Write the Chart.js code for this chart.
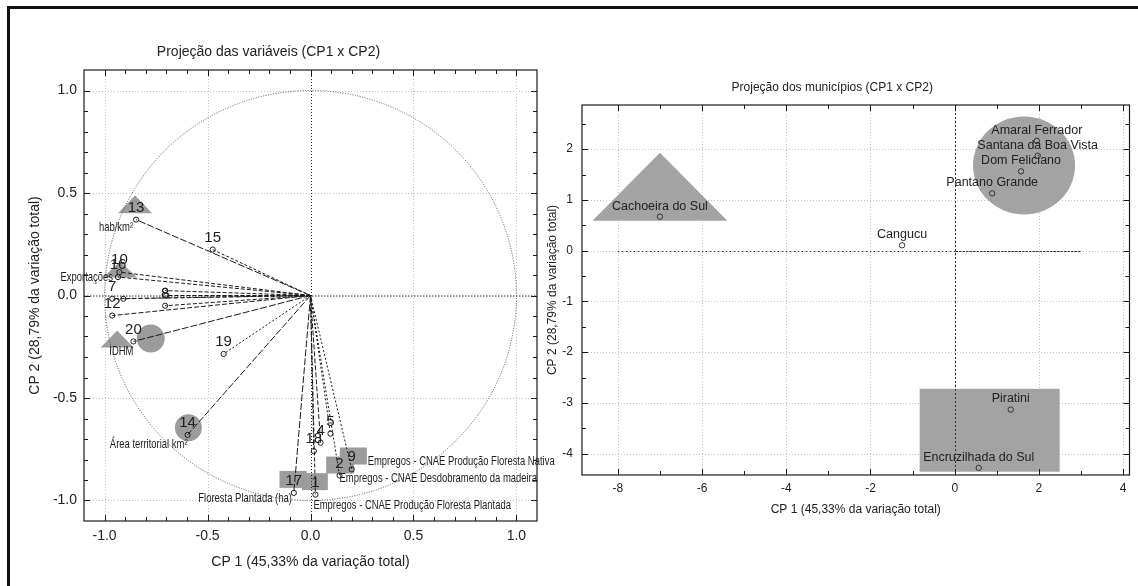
<!DOCTYPE html>
<html>
<head>
<meta charset="utf-8">
<script src="https://cdn.jsdelivr.net/npm/chart.js@4.4.0/dist/chart.umd.min.js"></script>
<style>
  html, body { margin: 0; padding: 0; background: #fff; }
  body { width: 1138px; height: 586px; position: relative; overflow: hidden; }
  #frame { position: absolute; left: 7px; top: 6px; width: 1300px; height: 700px;
           border-left: 3px solid #111; border-top: 3px solid #111; }
  canvas { position: absolute; top: 0; }
  #left { left: 0; }
  #right { left: 535px; }
</style>
</head>
<body>
<div id="frame"></div>
<canvas id="left" width="555" height="586"></canvas>
<canvas id="right" width="603" height="586"></canvas>
<script>
var FONT = "'Liberation Sans', Arial, sans-serif";

// ---- variáveis (CP1 x CP2) ----
var varLabels = ['1', '2', '', '4', '5', '', '7', '8', '9', '10', '', '12', '13', '14', '15', '16', '17', '18', '19', '20'];
var varCP1 = [0.024, 0.141, -0.706, 0.049, 0.097, -0.70, -0.963, -0.706, 0.20, -0.928, -0.909, -0.963, -0.847, -0.597, -0.475, -0.935, -0.081, 0.016, -0.422, -0.86];
var varCP2 = [-0.971, -0.878, 0.024, -0.718, -0.674, 0.0, -0.016, -0.05, -0.848, 0.114, -0.016, -0.098, 0.37, -0.68, 0.224, 0.09, -0.963, -0.759, -0.285, -0.224];
var varNames = ['Empregos - CNAE Produção Floresta Plantada', 'Empregos - CNAE Desdobramento da madeira', '', '', '', '', '', '', 'Empregos - CNAE Produção Floresta Nativa', '', '', '', 'hab/km²', 'Área territorial km²', '', 'Exportações', 'Floresta Plantada (ha)', '', '', 'IDHM'];

// grupos destacados (centros)
var varGroupKind = ['tri', 'tri', 'tri', 'circ', 'circ', 'rect', 'rect', 'rect', 'rect'];
var varGroupCP1 = [-0.852, -0.925, -0.939, -0.776, -0.593, -0.085, 0.021, 0.144, 0.208];
var varGroupCP2 = [0.445, 0.127, -0.212, -0.21, -0.645, -0.897, -0.908, -0.827, -0.783];

// ---- municípios (CP1 x CP2) ----
var munNames = ['Amaral Ferrador', 'Santana da Boa Vista', 'Dom Feliciano', 'Pantano Grande', 'Cachoeira do Sul', 'Cangucu', 'Piratini', 'Encruzilhada do Sul'];
var munCP1 = [1.95, 1.97, 1.575, 0.89, -7.0, -1.25, 1.33, 0.57];
var munCP2 = [2.165, 1.87, 1.563, 1.13, 0.67, 0.106, -3.13, -4.28];

var munGroupKind = ['tri', 'circ', 'rect'];
var munGroupCP1 = [-7.0, 1.646, 0.83];
var munGroupCP2 = [1.26, 1.68, -3.54];

// styles
var varGroupSize = [[34, 18], [34, 16], [33, 17], [28, 28], [27, 27], [27, 17], [26, 17], [28, 17], [27, 17]];
var munGroupSize = [[135, 68], [102, 98], [140, 83]];
var vecDash = [[4, 2], [2, 2], [4, 2], [5, 2], [2, 2], [4, 2], [4, 2], [4, 2], [2, 2], [4, 2],
               [4, 3], [5, 2], [7, 2], [7, 2], [3, 2], [4, 2], [7, 2], [6, 2, 2, 2], [2, 2], [7, 2]];
var nameStyle = { 0: ['left', -2, 11], 1: ['left', 0, 3], 8: ['left', 16, -8], 12: ['right', -3, 8],
                  13: ['right', 0, 9], 15: ['right', -5, 0], 16: ['right', -2, 5], 19: ['right', 0, 10] };

function hline(ctx, x1, x2, y) { ctx.beginPath(); ctx.moveTo(x1, y); ctx.lineTo(x2, y); ctx.stroke(); }
function vline(ctx, x, y1, y2) { ctx.beginPath(); ctx.moveTo(x, y1); ctx.lineTo(x, y2); ctx.stroke(); }

function drawShape(ctx, kind, cx, cy, w, h) {
	ctx.beginPath();
	if (kind === 'tri') {
		ctx.moveTo(cx, cy - h / 2); ctx.lineTo(cx + w / 2, cy + h / 2); ctx.lineTo(cx - w / 2, cy + h / 2); ctx.closePath();
	} else if (kind === 'circ') {
		ctx.ellipse(cx, cy, w / 2, h / 2, 0, 0, Math.PI * 2);
	} else {
		ctx.rect(cx - w / 2, cy - h / 2, w, h);
	}
	ctx.fill();
}

function drawGrid(chart) {
	var ctx = chart.ctx, a = chart.chartArea, sx = chart.scales.x, sy = chart.scales.y;
	ctx.strokeStyle = '#c2c2c2'; ctx.lineWidth = 1; ctx.setLineDash([1, 2]);
	sx.ticks.forEach(function (t) { vline(ctx, Math.round(sx.getPixelForValue(t.value)) + 0.5, a.top, a.bottom); });
	sy.ticks.forEach(function (t) { hline(ctx, a.left, a.right, Math.round(sy.getPixelForValue(t.value)) + 0.5); });
	ctx.setLineDash([]);
}

function drawGroups(chart, kinds, gx, gy, sizes, color) {
	var ctx = chart.ctx, sx = chart.scales.x, sy = chart.scales.y;
	ctx.fillStyle = color;
	kinds.forEach(function (k, i) {
		drawShape(ctx, k, sx.getPixelForValue(gx[i]), sy.getPixelForValue(gy[i]), sizes[i][0], sizes[i][1]);
	});
}

function drawBox(chart, xMinor, yMinor, xMajor, yMajor) {
	var ctx = chart.ctx, a = chart.chartArea, sx = chart.scales.x, sy = chart.scales.y;
	ctx.strokeStyle = '#1a1a1a'; ctx.lineWidth = 1.2; ctx.setLineDash([]);
	ctx.strokeRect(a.left, a.top, a.right - a.left, a.bottom - a.top);
	ctx.lineWidth = 1;
	xMinor.forEach(function (v) {
		var p = Math.round(sx.getPixelForValue(v)) + 0.5, L = xMajor(v) ? 6 : 4;
		vline(ctx, p, a.bottom, a.bottom - L); vline(ctx, p, a.top, a.top + L);
	});
	yMinor.forEach(function (v) {
		var p = Math.round(sy.getPixelForValue(v)) + 0.5, L = yMajor(v) ? 6 : 4;
		hline(ctx, a.left, a.left + L, p); hline(ctx, a.right, a.right - L, p);
	});
}

function condensed(ctx, text, x, y, align, k) {
	ctx.save(); ctx.translate(x, y); ctx.scale(k, 1); ctx.textAlign = align; ctx.fillText(text, 0, 0); ctx.restore();
}

// ---------- left chart ----------
var leftMinor = [];
for (var k = -10; k <= 10; k++) leftMinor.push(k / 10);

var leftDatasets = varCP1.map(function (v, i) {
	return {
		data: [{ x: 0, y: 0 }, { x: varCP1[i], y: varCP2[i] }],
		showLine: true, borderColor: '#1a1a1a', borderWidth: 1, borderDash: vecDash[i],
		pointRadius: 0, order: 2
	};
});
leftDatasets.push({
	data: varCP1.map(function (v, i) { return { x: v, y: varCP2[i] }; }),
	showLine: false, pointRadius: 2.6, pointBorderWidth: 1, pointBorderColor: '#1a1a1a',
	pointBackgroundColor: 'rgba(255,255,255,0)', order: 1
});

var leftPlugin = {
	id: 'leftDecor',
	beforeDatasetsDraw: function (chart) {
		var ctx = chart.ctx, a = chart.chartArea, sx = chart.scales.x, sy = chart.scales.y;
		ctx.save();
		drawGrid(chart);
		drawGroups(chart, varGroupKind, varGroupCP1, varGroupCP2, varGroupSize, '#9c9c9c');
		var x0 = sx.getPixelForValue(0), y0 = sy.getPixelForValue(0);
		// unit circle
		ctx.strokeStyle = '#555'; ctx.lineWidth = 1; ctx.setLineDash([1, 1.5]);
		ctx.beginPath();
		ctx.ellipse(x0, y0, sx.getPixelForValue(1) - x0, y0 - sy.getPixelForValue(1), 0, 0, Math.PI * 2);
		ctx.stroke();
		// zero lines
		ctx.strokeStyle = '#777'; ctx.lineWidth = 1.6; ctx.setLineDash([1.5, 1.5]);
		hline(ctx, a.left, a.right, Math.round(y0));
		ctx.strokeStyle = '#222'; ctx.lineWidth = 1; ctx.setLineDash([1, 2]);
		vline(ctx, Math.round(x0) + 0.5, a.top, a.bottom);
		ctx.restore();
	},
	afterDatasetsDraw: function (chart) {
		var ctx = chart.ctx;
		ctx.save();
		drawBox(chart, leftMinor, leftMinor,
			function (v) { return Math.abs(v * 2 - Math.round(v * 2)) < 1e-6; },
			function (v) { return Math.abs(v * 2 - Math.round(v * 2)) < 1e-6; });
		var pts = chart.getDatasetMeta(chart.data.datasets.length - 1).data;
		ctx.fillStyle = '#1e1e1e'; ctx.textBaseline = 'middle';
		ctx.font = '15px ' + FONT; ctx.textAlign = 'center';
		varLabels.forEach(function (t, i) { if (t) ctx.fillText(t, pts[i].x, pts[i].y - 12); });
		ctx.font = '13.5px ' + FONT;
		varNames.forEach(function (t, i) {
			if (!t) return;
			var s = nameStyle[i];
			condensed(ctx, t, pts[i].x + s[1], pts[i].y + s[2], s[0], 0.7);
		});
		ctx.restore();
	}
};

new Chart(document.getElementById('left'), {
	type: 'scatter',
	data: { datasets: leftDatasets },
	options: {
		responsive: false, animation: false, events: [],
		layout: { padding: { left: 0, right: 18, top: 0, bottom: 0 } },
		plugins: {
			legend: { display: false }, tooltip: { enabled: false },
			title: { display: true, text: 'Projeção das variáveis (CP1 x CP2)', color: '#222',
				font: { family: FONT, size: 14, weight: 'normal' }, padding: { top: 43.6, bottom: 9.6 } }
		},
		scales: {
			x: {
				type: 'linear', min: -1.1, max: 1.1,
				grid: { display: false, drawTicks: false }, border: { display: false },
				ticks: { stepSize: 0.5, includeBounds: false, padding: 7, color: '#222', maxRotation: 0,
					font: { family: FONT, size: 14 }, callback: function (v) { return v.toFixed(1); } },
				title: { display: true, text: 'CP 1 (45,33% da variação total)', color: '#222',
					font: { family: FONT, size: 14 }, padding: { top: 0, bottom: 15.6 } },
				afterFit: function (s) { s.height = 65; }
			},
			y: {
				type: 'linear', min: -1.1, max: 1.1,
				grid: { display: false, drawTicks: false }, border: { display: false },
				ticks: { stepSize: 0.5, includeBounds: false, padding: 7, color: '#222',
					font: { family: FONT, size: 14 }, callback: function (v) { return v.toFixed(1); } },
				title: { display: true, text: 'CP 2 (28,79% da variação total)', color: '#222',
					font: { family: FONT, size: 14 }, padding: { top: 26.6, bottom: 0 } },
				afterFit: function (s) { s.width = 84; }
			}
		}
	},
	plugins: [leftPlugin]
});

// ---------- right chart ----------
var rightXMinor = [], rightYMinor = [];
for (var i = -8; i <= 4; i++) rightXMinor.push(i);
for (var j = -8; j <= 5; j++) rightYMinor.push(j / 2);

var rightPlugin = {
	id: 'rightDecor',
	beforeDatasetsDraw: function (chart) {
		var ctx = chart.ctx, a = chart.chartArea, sx = chart.scales.x, sy = chart.scales.y;
		ctx.save();
		drawGrid(chart);
		drawGroups(chart, munGroupKind, munGroupCP1, munGroupCP2, munGroupSize, '#a3a3a3');
		var x0 = Math.round(sx.getPixelForValue(0)) + 0.5, y0 = Math.round(sy.getPixelForValue(0)) + 0.5;
		ctx.strokeStyle = '#333'; ctx.lineWidth = 1;
		ctx.setLineDash([1.5, 2.5]);
		hline(ctx, sx.getPixelForValue(-8), x0, y0);
		ctx.setLineDash([2.5, 1]);
		hline(ctx, x0, sx.getPixelForValue(3), y0);
		ctx.setLineDash([2, 2]);
		vline(ctx, x0, a.top, a.bottom);
		ctx.restore();
	},
	afterDatasetsDraw: function (chart) {
		var ctx = chart.ctx;
		ctx.save();
		drawBox(chart, rightXMinor, rightYMinor,
			function (v) { return v % 2 === 0; },
			function (v) { return Math.round(v) === v; });
		var pts = chart.getDatasetMeta(0).data;
		ctx.fillStyle = '#222'; ctx.textBaseline = 'middle'; ctx.textAlign = 'center';
		ctx.font = '12.5px ' + FONT;
		munNames.forEach(function (t, i) { ctx.fillText(t, pts[i].x, pts[i].y - 10.5); });
		ctx.restore();
	}
};

new Chart(document.getElementById('right'), {
	type: 'scatter',
	data: {
		datasets: [{
			data: munCP1.map(function (v, i) { return { x: v, y: munCP2[i] }; }),
			showLine: false, pointRadius: 2.7, pointBorderWidth: 1, pointBorderColor: '#333',
			pointBackgroundColor: 'rgba(255,255,255,0)'
		}]
	},
	options: {
		responsive: false, animation: false, events: [],
		layout: { padding: { left: 0, right: 8.5, top: 0, bottom: 0 } },
		plugins: {
			legend: { display: false }, tooltip: { enabled: false },
			title: { display: true, text: 'Projeção dos municípios (CP1 x CP2)', color: '#222',
				font: { family: FONT, size: 12, weight: 'normal' }, padding: { top: 80.8, bottom: 9.8 } }
		},
		scales: {
			x: {
				type: 'linear', min: -8.85, max: 4.15,
				grid: { display: false, drawTicks: false }, border: { display: false },
				ticks: { stepSize: 2, includeBounds: false, padding: 6.7, color: '#222', maxRotation: 0,
					font: { family: FONT, size: 12 } },
				title: { display: true, text: 'CP 1 (45,33% da variação total)', color: '#222',
					font: { family: FONT, size: 12 }, padding: { top: 0, bottom: 68.8 } },
				afterFit: function (s) { s.height = 111; }
			},
			y: {
				type: 'linear', min: -4.42, max: 2.87,
				grid: { display: false, drawTicks: false }, border: { display: false },
				ticks: { stepSize: 1, includeBounds: false, padding: 9, color: '#222',
					font: { family: FONT, size: 12 } },
				title: { display: true, text: 'CP 2 (28,79% da variação total)', color: '#222',
					font: { family: FONT, size: 12 }, padding: { top: 10.8, bottom: 0 } },
				afterFit: function (s) { s.width = 47; }
			}
		}
	},
	plugins: [rightPlugin]
});
</script>
</body>
</html>
